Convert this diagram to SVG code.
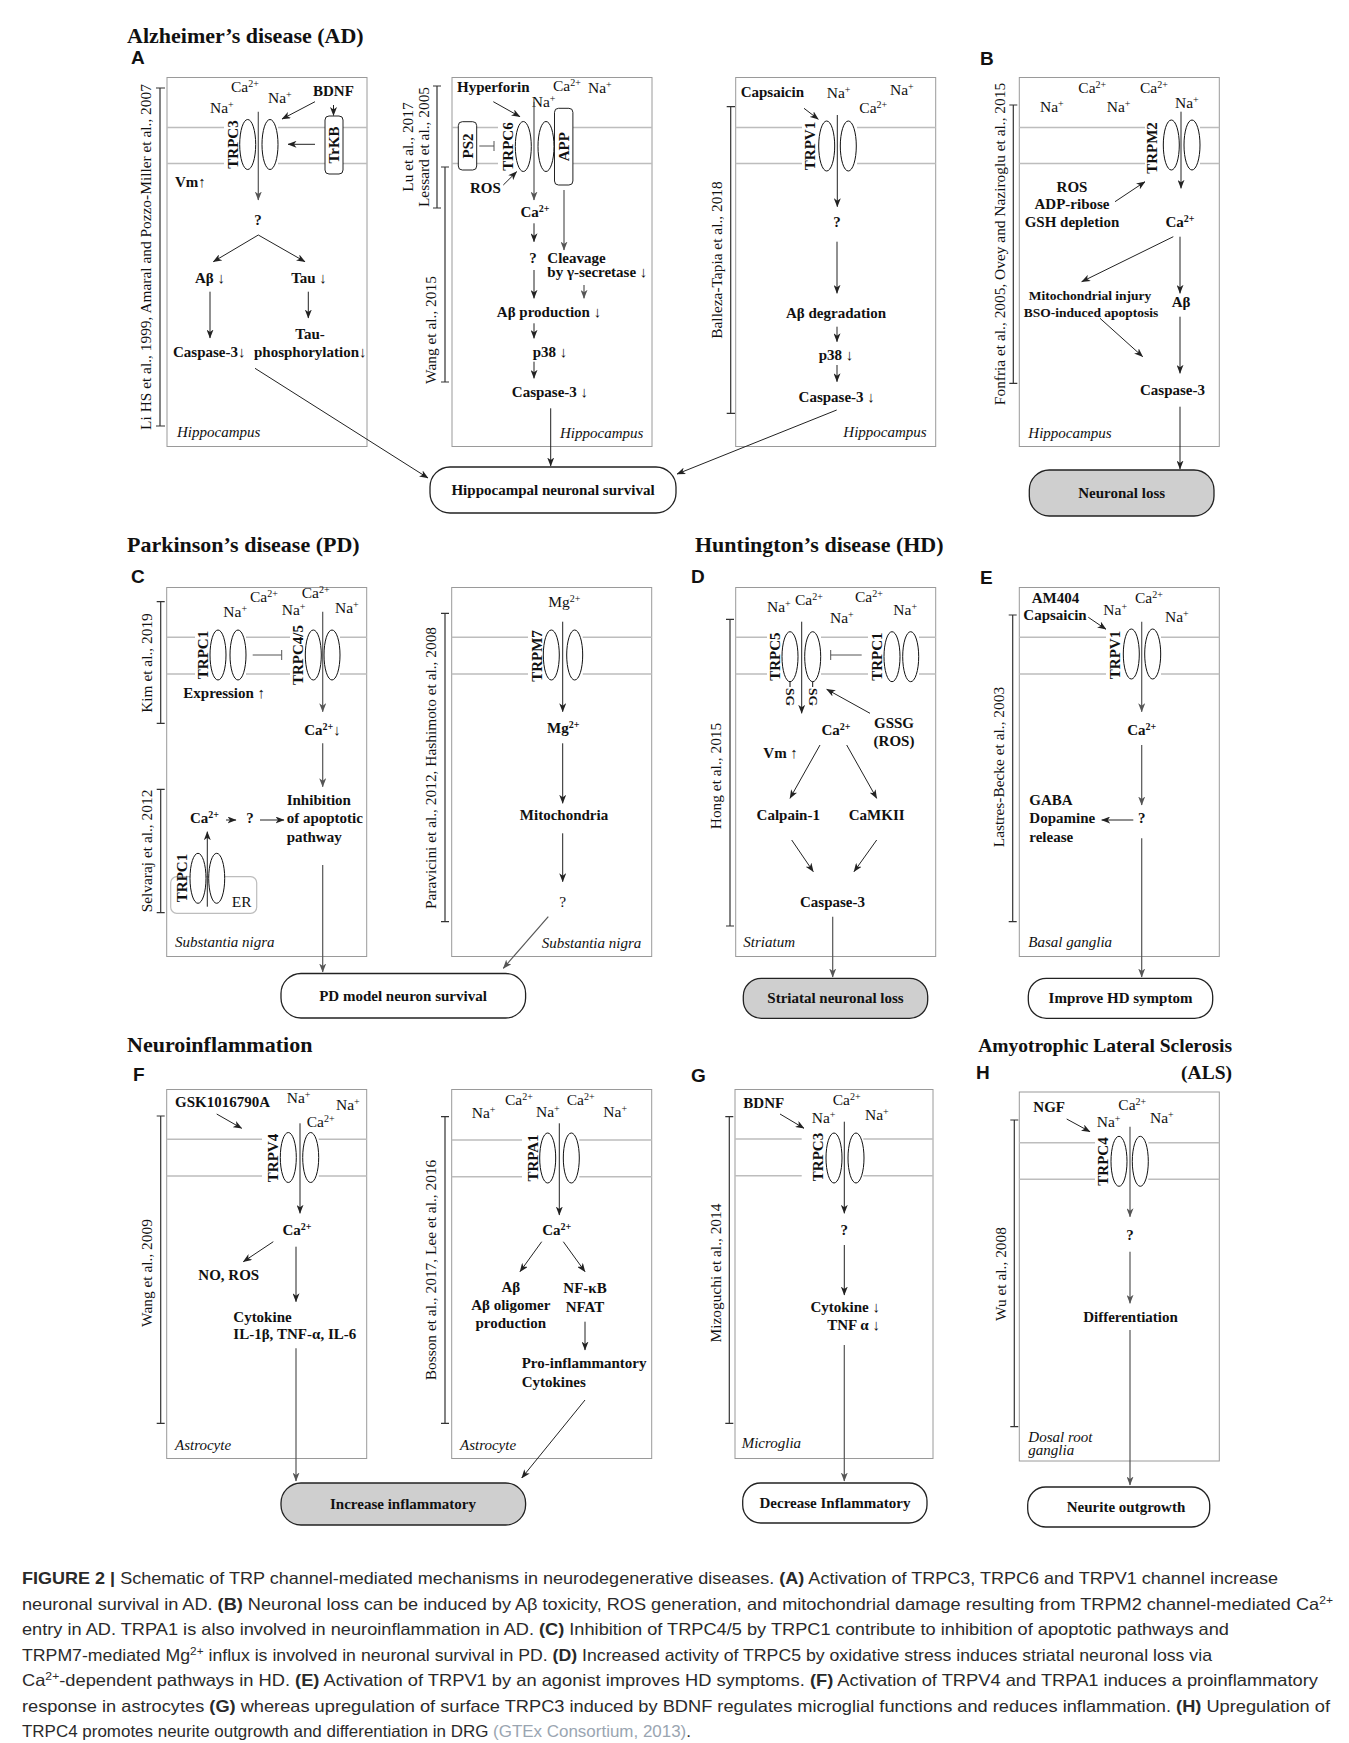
<svg xmlns="http://www.w3.org/2000/svg" width="1349" height="1743" viewBox="0 0 1349 1743">
<style>
text{font-family:"Liberation Serif","Times New Roman",serif;fill:#111}
.t{font-size:22px;font-weight:bold}
.ts{font-size:19.5px;font-weight:bold}
.pl{font-family:"Liberation Sans",Arial,sans-serif;font-size:19px;font-weight:bold}
.b{font-size:15px;font-weight:bold}
.bs{font-size:13.5px;font-weight:bold}
.r{font-size:15.5px}
.i{font-size:15px;font-style:italic}
.c{font-size:15.4px}
.m{text-anchor:middle}
.e{text-anchor:end}
.sup{font-size:10px;baseline-shift:super}
.box{fill:none;stroke:#9a9a9a;stroke-width:1}
.mem{stroke:#bdbdbd;stroke-width:1.5;fill:none}
.ov{fill:#fff;stroke:#111;stroke-width:1}
.rb{fill:#fff;stroke:#222;stroke-width:1}
.br{fill:none;stroke:#333;stroke-width:1.2}
.a{stroke:#222;stroke-width:1;fill:none;marker-end:url(#ah)}
.g{stroke:#555;stroke-width:1.2;fill:none;marker-end:url(#ahg)}
.inh{stroke:#555;stroke-width:1;fill:none}
.out{fill:#fff;stroke:#222;stroke-width:1.3}
.outg{fill:#cfcfcf;stroke:#222;stroke-width:1.3}
.cap{font-family:"Liberation Sans",Arial,sans-serif;font-size:16.5px;fill:#2a2a2a}
.capb{font-weight:bold}
</style>
<defs>
<marker id="ah" markerUnits="userSpaceOnUse" markerWidth="9" markerHeight="7" refX="8.5" refY="3.5" orient="auto"><path d="M0,0 L9,3.5 L0,7 L2.5,3.5 z" fill="#222"/></marker>
<marker id="ahg" markerUnits="userSpaceOnUse" markerWidth="9" markerHeight="7" refX="8.5" refY="3.5" orient="auto"><path d="M0,0 L9,3.5 L0,7 L2.5,3.5 z" fill="#555"/></marker>
</defs>
<rect width="1349" height="1743" fill="#fff"/>

<!-- titles -->
<g id="titles">
<text class="t" x="127" y="43">Alzheimer’s disease (AD)</text>
<text class="pl" x="131" y="64">A</text>
<text class="pl" x="980" y="65">B</text>
<text class="t" x="127" y="552">Parkinson’s disease (PD)</text>
<text class="pl" x="131" y="583">C</text>
<text class="t" x="695" y="552">Huntington’s disease (HD)</text>
<text class="pl" x="691" y="583">D</text>
<text class="pl" x="980" y="584">E</text>
<text class="t" x="127" y="1052">Neuroinflammation</text>
<text class="pl" x="133" y="1081">F</text>
<text class="pl" x="691" y="1082">G</text>
<text class="ts e" x="1232" y="1052">Amyotrophic Lateral Sclerosis</text>
<text class="ts e" x="1232" y="1079">(ALS)</text>
<text class="pl" x="976" y="1079">H</text>
</g>

<!-- Panel A1 TRPC3 -->
<g id="panelA1">
<rect class="box" x="167" y="77.5" width="200" height="369"/>
<path class="mem" d="M167,127.5H224M278,127.5H367M167,163.5H224M278,163.5H367"/>
<ellipse class="ov" cx="247.7" cy="144.5" rx="8" ry="25"/>
<ellipse class="ov" cx="270" cy="144.5" rx="8" ry="25"/>
<rect class="rb" x="325" y="116" width="18" height="58" rx="4"/>
<text class="b m" transform="translate(339,145) rotate(-90)">TrKB</text>
<text class="b m" transform="translate(238,144.5) rotate(-90)">TRPC3</text>
<text class="r" x="231" y="92">Ca<tspan class="sup">2+</tspan></text>
<text class="r" x="210" y="113">Na<tspan class="sup">+</tspan></text>
<text class="r" x="268" y="103">Na<tspan class="sup">+</tspan></text>
<text class="b" x="313" y="96">BDNF</text>
<text class="b" x="175" y="187">Vm↑</text>
<text class="b m" x="258" y="225">?</text>
<text class="b m" x="210" y="283">Aβ ↓</text>
<text class="b m" x="309" y="283">Tau ↓</text>
<text class="b m" x="310" y="338.5">Tau-</text>
<text class="b" x="173" y="357">Caspase-3↓</text>
<text class="b" x="254" y="357">phosphorylation↓</text>
<text class="i" x="177" y="437">Hippocampus</text>
<path class="br" d="M156,88H165M160,88V426M156,426H165"/>
<text class="c m" transform="translate(151,257) rotate(-90)">Li HS et al., 1999, Amaral and Pozzo-Miller et al., 2007</text>
</g>

<!-- Panel A2 TRPC6 -->
<g id="panelA2">
<rect class="box" x="452" y="77.5" width="200" height="369"/>
<path class="mem" d="M452,127.5H498M573,127.5H652M452,163.5H498M573,163.5H652"/>
<rect class="rb" x="458.3" y="121.7" width="18.4" height="48.3" rx="4"/>
<text class="b m" transform="translate(472.5,146) rotate(-90)">PS2</text>
<text class="b m" transform="translate(512.7,146.5) rotate(-90)">TRPC6</text>
<ellipse class="ov" cx="523.3" cy="146.5" rx="8" ry="25"/>
<ellipse class="ov" cx="546" cy="146.5" rx="8" ry="25"/>
<rect class="rb" x="554.5" y="108.3" width="18.4" height="76.7" rx="4"/>
<text class="b m" transform="translate(568.7,146.7) rotate(-90)">APP</text>
<text class="b" x="457" y="92">Hyperforin</text>
<text class="r" x="553" y="91">Ca<tspan class="sup">2+</tspan></text>
<text class="r" x="588" y="93">Na<tspan class="sup">+</tspan></text>
<text class="r" x="531.7" y="106.5">Na<tspan class="sup">+</tspan></text>
<text class="b" x="470" y="193.3">ROS</text>
<text class="b m" x="535" y="217">Ca<tspan class="sup">2+</tspan></text>
<text class="b m" x="533" y="263.3">?</text>
<text class="b" x="547.3" y="263.3">Cleavage</text>
<text class="b" x="547.3" y="277">by γ-secretase ↓</text>
<text class="b m" x="549" y="317">Aβ production ↓</text>
<text class="b m" x="550" y="357">p38 ↓</text>
<text class="b m" x="550" y="397">Caspase-3 ↓</text>
<text class="i" x="560" y="438">Hippocampus</text>
<path class="br" d="M433,86H441M437,86V208M433,208H441"/>
<path class="br" d="M441,167H449M445,167V382M441,382H449"/>
<text class="c m" transform="translate(413,147) rotate(-90)">Lu et al., 2017</text>
<text class="c m" transform="translate(428.5,147) rotate(-90)">Lessard et al., 2005</text>
<text class="c m" transform="translate(436,330) rotate(-90)">Wang et al., 2015</text>
</g>

<!-- Panel A3 TRPV1 -->
<g id="panelA3">
<rect class="box" x="735.7" y="77.5" width="200" height="369"/>
<path class="mem" d="M735.7,127.5H802M857,127.5H935.7M735.7,163.5H802M857,163.5H935.7"/>
<ellipse class="ov" cx="826.7" cy="146" rx="8" ry="25"/>
<ellipse class="ov" cx="848.3" cy="146" rx="8" ry="25"/>
<text class="b m" transform="translate(815,146) rotate(-90)">TRPV1</text>
<text class="b" x="740.7" y="96.7">Capsaicin</text>
<text class="r" x="826.7" y="98.3">Na<tspan class="sup">+</tspan></text>
<text class="r" x="890" y="95">Na<tspan class="sup">+</tspan></text>
<text class="r" x="859.3" y="113.3">Ca<tspan class="sup">2+</tspan></text>
<text class="b m" x="837" y="226.7">?</text>
<text class="b m" x="836" y="318.3">Aβ degradation</text>
<text class="b m" x="836" y="360">p38 ↓</text>
<text class="b m" x="836.7" y="401.7">Caspase-3 ↓</text>
<text class="i" x="843.3" y="437">Hippocampus</text>
<path class="br" d="M726.7,106.7H735M730.7,106.7V413.3M726.7,413.3H735"/>
<text class="c m" transform="translate(722,260) rotate(-90)">Balleza-Tapia et al., 2018</text>
</g>

<!-- Panel B TRPM2 -->
<g id="panelB">
<rect class="box" x="1019.3" y="77.5" width="200" height="369"/>
<path class="mem" d="M1019.3,127.5H1145M1200,127.5H1219.3M1019.3,163.5H1145M1200,163.5H1219.3"/>
<ellipse class="ov" cx="1171.3" cy="145" rx="8" ry="25"/>
<ellipse class="ov" cx="1192" cy="145" rx="8" ry="25"/>
<text class="b m" transform="translate(1156.7,148) rotate(-90)">TRPM2</text>
<text class="r" x="1078.3" y="93.3">Ca<tspan class="sup">2+</tspan></text>
<text class="r" x="1140" y="93.3">Ca<tspan class="sup">2+</tspan></text>
<text class="r" x="1040" y="111.7">Na<tspan class="sup">+</tspan></text>
<text class="r" x="1106.7" y="111.7">Na<tspan class="sup">+</tspan></text>
<text class="r" x="1175" y="108.3">Na<tspan class="sup">+</tspan></text>
<text class="b m" x="1072" y="191.7">ROS</text>
<text class="b m" x="1072" y="209">ADP-ribose</text>
<text class="b m" x="1072" y="227">GSH depletion</text>
<text class="b m" x="1180" y="227">Ca<tspan class="sup">2+</tspan></text>
<text class="bs m" x="1090" y="300">Mitochondrial injury</text>
<text class="bs m" x="1091" y="317">BSO-induced apoptosis</text>
<text class="b m" x="1181" y="307">Aβ</text>
<text class="b m" x="1172.5" y="395">Caspase-3</text>
<text class="i" x="1028.3" y="438.3">Hippocampus</text>
<path class="br" d="M1009.3,105H1017.3M1013.3,105V383.3M1009.3,383.3H1017.3"/>
<text class="c m" transform="translate(1004.5,244) rotate(-90)">Fonfria et al., 2005, Ovey and Naziroglu et al., 2015</text>
</g>

<!-- Panel C1 TRPC1 / TRPC4/5 -->
<g id="panelC1">
<rect class="box" x="166.7" y="587.5" width="200" height="369"/>
<path class="mem" d="M166.7,637.3H195M246,637.3H290M340,637.3H366.7M166.7,674H195M246,674H290M340,674H366.7"/>
<ellipse class="ov" cx="218" cy="655" rx="8" ry="25"/>
<ellipse class="ov" cx="238" cy="655" rx="8" ry="25"/>
<text class="b m" transform="translate(208,655) rotate(-90)">TRPC1</text>
<ellipse class="ov" cx="313.3" cy="655" rx="8" ry="25"/>
<ellipse class="ov" cx="332" cy="655" rx="8" ry="25"/>
<text class="b m" transform="translate(303.3,655) rotate(-90)">TRPC4/5</text>
<text class="r" x="250" y="601.7">Ca<tspan class="sup">2+</tspan></text>
<text class="r" x="223.3" y="616.7">Na<tspan class="sup">+</tspan></text>
<text class="r" x="301.7" y="598.3">Ca<tspan class="sup">2+</tspan></text>
<text class="r" x="281.7" y="615">Na<tspan class="sup">+</tspan></text>
<text class="r" x="335" y="613.3">Na<tspan class="sup">+</tspan></text>
<text class="b" x="183.3" y="698.3">Expression ↑</text>
<text class="b m" x="322.5" y="735">Ca<tspan class="sup">2+</tspan>↓</text>
<text class="b" x="286.7" y="805">Inhibition</text>
<text class="b" x="286.7" y="823.3">of apoptotic</text>
<text class="b" x="286.7" y="841.7">pathway</text>
<text class="b" x="190" y="823.3">Ca<tspan class="sup">2+</tspan></text>
<text class="b m" x="250" y="823.3">?</text>
<rect x="170.7" y="876.7" width="86" height="36.6" rx="6" fill="none" stroke="#bdbdbd" stroke-width="1.2"/>
<ellipse class="ov" cx="198" cy="878.3" rx="8" ry="25"/>
<ellipse class="ov" cx="216.7" cy="878.3" rx="8" ry="25"/>
<text class="b m" transform="translate(187,878) rotate(-90)">TRPC1</text>
<text class="r" x="231.7" y="906.7">ER</text>
<text class="i" x="175" y="946.7">Substantia nigra</text>
<path class="br" d="M156.7,601.7H164.7M160.7,601.7V723.3M156.7,723.3H164.7"/>
<path class="br" d="M156.7,789.3H164.7M160.7,789.3V912.7M156.7,912.7H164.7"/>
<text class="c m" transform="translate(152,663) rotate(-90)">Kim et al., 2019</text>
<text class="c m" transform="translate(152,851) rotate(-90)">Selvaraj et al., 2012</text>
</g>

<!-- Panel C2 TRPM7 -->
<g id="panelC2">
<rect class="box" x="451.7" y="587.5" width="200" height="369"/>
<path class="mem" d="M451.7,637.3H528M582.7,637.3H651.7M451.7,674H528M582.7,674H651.7"/>
<ellipse class="ov" cx="551.3" cy="655" rx="8" ry="25"/>
<ellipse class="ov" cx="574.7" cy="655" rx="8" ry="25"/>
<text class="b m" transform="translate(541.7,656) rotate(-90)">TRPM7</text>
<text class="r" x="548.3" y="606.7">Mg<tspan class="sup">2+</tspan></text>
<text class="b m" x="563.3" y="733.3">Mg<tspan class="sup">2+</tspan></text>
<text class="b m" x="564" y="820">Mitochondria</text>
<text class="r m" x="562.7" y="906.7">?</text>
<text class="i" x="541.7" y="948.3">Substantia nigra</text>
<path class="br" d="M441,613.3H449M445,613.3V921.7M441,921.7H449"/>
<text class="c m" transform="translate(436,768) rotate(-90)">Paravicini et al., 2012, Hashimoto et al., 2008</text>
</g>

<!-- Panel D TRPC5 -->
<g id="panelD">
<rect class="box" x="735.7" y="587.5" width="200" height="369"/>
<path class="mem" d="M735.7,637.3H767M821,637.3H868M919,637.3H935.7M735.7,674H767M821,674H868M919,674H935.7"/>
<ellipse class="ov" cx="790" cy="656.7" rx="8" ry="25"/>
<ellipse class="ov" cx="812.7" cy="656.7" rx="8" ry="25"/>
<path d="M790,681.7V687M812.7,681.7V687" stroke="#111" stroke-width="1"/>
<text class="bs" transform="translate(786,688) rotate(90)">SG</text>
<text class="bs" transform="translate(808.7,688) rotate(90)">SG</text>
<text class="b m" transform="translate(780,656.7) rotate(-90)">TRPC5</text>
<ellipse class="ov" cx="892" cy="656.7" rx="8" ry="25"/>
<ellipse class="ov" cx="910.7" cy="656.7" rx="8" ry="25"/>
<text class="b m" transform="translate(881.5,656.7) rotate(-90)">TRPC1</text>
<text class="r" x="767" y="611.7">Na<tspan class="sup">+</tspan></text>
<text class="r" x="795" y="605">Ca<tspan class="sup">2+</tspan></text>
<text class="r" x="830" y="623.3">Na<tspan class="sup">+</tspan></text>
<text class="r" x="855" y="601.7">Ca<tspan class="sup">2+</tspan></text>
<text class="r" x="893.3" y="615">Na<tspan class="sup">+</tspan></text>
<text class="b m" x="894" y="728.3">GSSG</text>
<text class="b m" x="894" y="746">(ROS)</text>
<text class="b m" x="836" y="735">Ca<tspan class="sup">2+</tspan></text>
<text class="b" x="763.3" y="758.3">Vm ↑</text>
<text class="b m" x="788.3" y="820">Calpain-1</text>
<text class="b m" x="876.7" y="820">CaMKII</text>
<text class="b m" x="832.5" y="906.7">Caspase-3</text>
<text class="i" x="743.3" y="946.7">Striatum</text>
<path class="br" d="M726,619.3H734M730,619.3V926M726,926H734"/>
<text class="c m" transform="translate(721,776) rotate(-90)">Hong et al., 2015</text>
</g>

<!-- Panel E TRPV1 -->
<g id="panelE">
<rect class="box" x="1019.3" y="587.5" width="200" height="369"/>
<path class="mem" d="M1019.3,637.3H1106M1161,637.3H1219.3M1019.3,674H1106M1161,674H1219.3"/>
<ellipse class="ov" cx="1131.3" cy="654" rx="8" ry="25"/>
<ellipse class="ov" cx="1152.7" cy="654" rx="8" ry="25"/>
<text class="b m" transform="translate(1120,655) rotate(-90)">TRPV1</text>
<text class="b" x="1031.7" y="603.3">AM404</text>
<text class="b" x="1023.3" y="620">Capsaicin</text>
<text class="r" x="1103.3" y="615">Na<tspan class="sup">+</tspan></text>
<text class="r" x="1135" y="603.3">Ca<tspan class="sup">2+</tspan></text>
<text class="r" x="1165" y="621.7">Na<tspan class="sup">+</tspan></text>
<text class="b m" x="1141.7" y="735">Ca<tspan class="sup">2+</tspan></text>
<text class="b m" x="1141.7" y="823.3">?</text>
<text class="b" x="1029.3" y="805">GABA</text>
<text class="b" x="1029.3" y="823.3">Dopamine</text>
<text class="b" x="1029.3" y="841.7">release</text>
<text class="i" x="1028.3" y="946.7">Basal ganglia</text>
<path class="br" d="M1008.7,615H1016.7M1012.7,615V921.7M1008.7,921.7H1016.7"/>
<text class="c m" transform="translate(1004,767) rotate(-90)">Lastres-Becke et al., 2003</text>
</g>

<!-- Panel F1 TRPV4 -->
<g id="panelF1">
<rect class="box" x="166.7" y="1089.5" width="200" height="369"/>
<path class="mem" d="M166.7,1139.3H262M318.7,1139.3H366.7M166.7,1176H262M318.7,1176H366.7"/>
<ellipse class="ov" cx="288.3" cy="1157.5" rx="8" ry="25"/>
<ellipse class="ov" cx="310.7" cy="1157.5" rx="8" ry="25"/>
<text class="b m" transform="translate(278.3,1158) rotate(-90)">TRPV4</text>
<text class="b" x="175" y="1106.7">GSK1016790A</text>
<text class="r" x="286.7" y="1103.3">Na<tspan class="sup">+</tspan></text>
<text class="r" x="336" y="1110">Na<tspan class="sup">+</tspan></text>
<text class="r" x="306.7" y="1126.7">Ca<tspan class="sup">2+</tspan></text>
<text class="b m" x="297" y="1235">Ca<tspan class="sup">2+</tspan></text>
<text class="b" x="198.3" y="1280">NO, ROS</text>
<text class="b" x="233.3" y="1321.7">Cytokine</text>
<text class="b" x="233.3" y="1339.3">IL-1β, TNF-α, IL-6</text>
<text class="i" x="175" y="1450">Astrocyte</text>
<path class="br" d="M156.7,1116H164.7M160.7,1116V1423.3M156.7,1423.3H164.7"/>
<text class="c m" transform="translate(152,1273) rotate(-90)">Wang et al., 2009</text>
</g>

<!-- Panel F2 TRPA1 -->
<g id="panelF2">
<rect class="box" x="451.7" y="1089.5" width="200" height="369"/>
<path class="mem" d="M451.7,1140H522M579.3,1140H651.7M451.7,1176.7H522M579.3,1176.7H651.7"/>
<ellipse class="ov" cx="547.7" cy="1158" rx="8" ry="25"/>
<ellipse class="ov" cx="571.3" cy="1158" rx="8" ry="25"/>
<text class="b m" transform="translate(538.3,1158) rotate(-90)">TRPA1</text>
<text class="r" x="471.7" y="1118.3">Na<tspan class="sup">+</tspan></text>
<text class="r" x="505" y="1105">Ca<tspan class="sup">2+</tspan></text>
<text class="r" x="536" y="1116.7">Na<tspan class="sup">+</tspan></text>
<text class="r" x="566.7" y="1105">Ca<tspan class="sup">2+</tspan></text>
<text class="r" x="603.3" y="1116.7">Na<tspan class="sup">+</tspan></text>
<text class="b m" x="556.7" y="1235">Ca<tspan class="sup">2+</tspan></text>
<text class="b m" x="510.8" y="1291.7">Aβ</text>
<text class="b m" x="510.8" y="1310">Aβ oligomer</text>
<text class="b m" x="510.8" y="1328">production</text>
<text class="b m" x="585" y="1293.3">NF-κB</text>
<text class="b m" x="585" y="1311.7">NFAT</text>
<text class="b" x="521.7" y="1368.3">Pro-inflammantory</text>
<text class="b" x="521.7" y="1386.7">Cytokines</text>
<text class="i" x="460" y="1450">Astrocyte</text>
<path class="br" d="M441,1116.7H449M445,1116.7V1423.3M441,1423.3H449"/>
<text class="c m" transform="translate(436,1270) rotate(-90)">Bosson et al., 2017, Lee et al., 2016</text>
</g>

<!-- Panel G TRPC3 -->
<g id="panelG">
<rect class="box" x="735" y="1089.5" width="198" height="369"/>
<path class="mem" d="M735,1139H801.7M863.3,1139H933M735,1175.7H801.7M863.3,1175.7H933"/>
<ellipse class="ov" cx="834" cy="1158" rx="8" ry="25"/>
<ellipse class="ov" cx="856" cy="1158" rx="8" ry="25"/>
<text class="b m" transform="translate(823.3,1157) rotate(-90)">TRPC3</text>
<text class="b" x="743.3" y="1108.3">BDNF</text>
<text class="r" x="811.7" y="1123.3">Na<tspan class="sup">+</tspan></text>
<text class="r" x="832.7" y="1105">Ca<tspan class="sup">2+</tspan></text>
<text class="r" x="865" y="1120">Na<tspan class="sup">+</tspan></text>
<text class="b m" x="844.3" y="1235">?</text>
<text class="b e" x="880" y="1311.7">Cytokine ↓</text>
<text class="b e" x="880" y="1330">TNF α ↓</text>
<text class="i" x="741.7" y="1448.3">Microglia</text>
<path class="br" d="M725.3,1116.7H733.3M729.3,1116.7V1423.3M725.3,1423.3H733.3"/>
<text class="c m" transform="translate(720.5,1273) rotate(-90)">Mizoguchi et al., 2014</text>
</g>

<!-- Panel H TRPC4 -->
<g id="panelH" transform="translate(5,0)">
<rect class="box" x="1014.3" y="1092" width="200" height="369"/>
<path class="mem" d="M1014.3,1142.7H1090M1143.3,1142.7H1214.3M1014.3,1179.3H1090M1143.3,1179.3H1214.3"/>
<ellipse class="ov" cx="1114" cy="1161.3" rx="8" ry="25"/>
<ellipse class="ov" cx="1135.3" cy="1161.3" rx="8" ry="25"/>
<text class="b m" transform="translate(1103.3,1161.5) rotate(-90)">TRPC4</text>
<text class="b" x="1028.3" y="1111.7">NGF</text>
<text class="r" x="1091.7" y="1126.7">Na<tspan class="sup">+</tspan></text>
<text class="r" x="1113.3" y="1110">Ca<tspan class="sup">2+</tspan></text>
<text class="r" x="1145" y="1123.3">Na<tspan class="sup">+</tspan></text>
<text class="b m" x="1125" y="1240">?</text>
<text class="b m" x="1125.5" y="1321.7">Differentiation</text>
<text class="i" x="1023.3" y="1441.7">Dosal root</text>
<text class="i" x="1023.3" y="1455">ganglia</text>
<path class="br" d="M1005.3,1120H1013.3M1009.3,1120V1426.7M1005.3,1426.7H1013.3"/>
<text class="c m" transform="translate(1000.5,1274) rotate(-90)">Wu et al., 2008</text>
</g>

<!-- outcome nodes -->
<g id="out-hippo"><rect class="out" x="430" y="467" width="246" height="46" rx="20"/><text class="b m" x="553" y="495">Hippocampal neuronal survival</text></g>
<g id="out-neuronloss"><rect class="outg" x="1029.3" y="470" width="184.7" height="46" rx="20"/><text class="b m" x="1121.7" y="498">Neuronal loss</text></g>
<g id="out-pd"><rect class="out" x="281" y="973.5" width="244.6" height="44.5" rx="20"/><text class="b m" x="403" y="1001">PD model neuron survival</text></g>
<g id="out-striatal"><rect class="outg" x="743.3" y="978.3" width="184.4" height="40" rx="18"/><text class="b m" x="835.5" y="1003">Striatal neuronal loss</text></g>
<g id="out-hd"><rect class="out" x="1028.3" y="978.3" width="184.4" height="40" rx="18"/><text class="b m" x="1120.5" y="1003">Improve HD symptom</text></g>
<g id="out-inc"><rect class="outg" x="281" y="1483" width="244.6" height="42" rx="20"/><text class="b m" x="403" y="1509">Increase inflammatory</text></g>
<g id="out-dec"><rect class="out" x="742.7" y="1483" width="184.3" height="40" rx="18"/><text class="b m" x="835" y="1508">Decrease Inflammatory</text></g>
<g id="out-neurite"><rect class="out" x="1027.7" y="1487" width="182" height="40" rx="18"/><text class="b m" x="1126" y="1512">Neurite outgrowth</text></g>

<!-- connectors -->
<g id="connectors">
<path class="a" d="M315,101.7L282,119"/>
<path class="a" d="M333.5,105V115.5"/>
<path class="a" d="M315,144.3H288"/>
<path class="g" d="M258.3,111.7V200"/>
<path class="a" d="M258.3,235L213.3,261.7"/>
<path class="a" d="M258.3,235L305,261.7"/>
<path class="a" d="M210,291.7V338"/>
<path class="a" d="M308.3,291.7V318"/>
<path class="a" d="M255,368.3L428,478"/>
<path class="inh" d="M479.3,146H494M494,141V151"/>
<path class="a" d="M493.3,101.7L520,116.7"/>
<path class="a" d="M503.3,185L516.7,171.7"/>
<path class="g" d="M534,101.7V200"/>
<path class="g" d="M564,190V250"/>
<path class="a" d="M534,223.3V241.7"/>
<path class="a" d="M534,270V298.3"/>
<path class="g" d="M584,285V298.3"/>
<path class="a" d="M534,323.3V338.3"/>
<path class="a" d="M534,361.7V378.3"/>
<path class="a" d="M550.7,408.3V466"/>
<path class="a" d="M804,108.3L818.3,119.3"/>
<path class="a" d="M837.3,115V206.7"/>
<path class="a" d="M837,241.7V293.3"/>
<path class="a" d="M837,326.7V341.7"/>
<path class="a" d="M837,365V381.7"/>
<path class="a" d="M836.7,410L677,474"/>
<path class="a" d="M1181,111.7V188.3"/>
<path class="a" d="M1115,201.7L1145,181.7"/>
<path class="a" d="M1180,236.7V293.3"/>
<path class="a" d="M1173.3,236.7L1081.7,281.7"/>
<path class="a" d="M1180,316.7V373.3"/>
<path class="a" d="M1100,318.3L1142.7,356.7"/>
<path class="a" d="M1180,406.7V469"/>
<path class="inh" d="M252.7,655H281.7M281.7,650V660"/>
<path class="g" d="M322.7,611.7V711.7"/>
<path class="g" d="M322.7,743.3V786.7"/>
<path class="a" d="M226,820H236"/>
<path class="a" d="M260,820H284"/>
<path class="a" d="M207.3,906.7V831.7"/>
<path class="g" d="M322.7,865V972"/>
<path class="a" d="M562.7,621.7V711.7"/>
<path class="a" d="M562.7,743.3V803.3"/>
<path class="a" d="M562.7,833.3V881.7"/>
<path class="g" d="M548.3,916.7L503.3,968.3"/>
<path class="a" d="M801.7,621.7V713.3"/>
<path class="inh" d="M861.7,655H830.7M830.7,650V660"/>
<path class="a" d="M870,713.3L826.7,689.3"/>
<path class="a" d="M820,745L790,798.3"/>
<path class="a" d="M846.7,745L876.7,798.3"/>
<path class="a" d="M791.7,840L813.3,871.7"/>
<path class="a" d="M876.7,840L854,871.7"/>
<path class="g" d="M832.7,916.7V977"/>
<path class="a" d="M1088.3,617.3L1106,629.3"/>
<path class="g" d="M1141.7,621.7V711.7"/>
<path class="g" d="M1141.7,745V805"/>
<path class="a" d="M1133.3,820H1101.7"/>
<path class="g" d="M1141.7,838.3V977"/>
<path class="a" d="M216.7,1114L241.7,1128.3"/>
<path class="a" d="M300,1123.3V1213.3"/>
<path class="a" d="M273.3,1241.7L243.3,1261.7"/>
<path class="a" d="M296,1246.7V1301.7"/>
<path class="g" d="M296,1348.3V1481"/>
<path class="a" d="M559.3,1123.3V1215"/>
<path class="a" d="M541.7,1241.7L520,1271.7"/>
<path class="a" d="M563.3,1241.7L585,1271.7"/>
<path class="a" d="M585,1321.7V1350"/>
<path class="a" d="M585,1400L521.7,1478"/>
<path class="a" d="M780,1114L804,1128.3"/>
<path class="a" d="M844.3,1121.7V1213.3"/>
<path class="a" d="M844.3,1245V1295"/>
<path class="g" d="M844.3,1345V1481"/>
<path class="a" d="M1066.7,1119L1090,1131.7"/>
<path class="g" d="M1130,1126.7V1216.7"/>
<path class="g" d="M1130,1251.7V1303.3"/>
<path class="g" d="M1130,1330V1485"/>
</g>

<!-- caption -->
<g id="caption">
<text class="cap" x="22" y="1584" textLength="1256" lengthAdjust="spacingAndGlyphs"><tspan class="capb">FIGURE 2 |</tspan> Schematic of TRP channel-mediated mechanisms in neurodegenerative diseases. <tspan class="capb">(A)</tspan> Activation of TRPC3, TRPC6 and TRPV1 channel increase</text>
<text class="cap" x="22" y="1609.5" textLength="1311" lengthAdjust="spacingAndGlyphs">neuronal survival in AD. <tspan class="capb">(B)</tspan> Neuronal loss can be induced by Aβ toxicity, ROS generation, and mitochondrial damage resulting from TRPM2 channel-mediated Ca<tspan font-size="11" baseline-shift="super">2+</tspan></text>
<text class="cap" x="22" y="1635" textLength="1207" lengthAdjust="spacingAndGlyphs">entry in AD. TRPA1 is also involved in neuroinflammation in AD. <tspan class="capb">(C)</tspan> Inhibition of TRPC4/5 by TRPC1 contribute to inhibition of apoptotic pathways and</text>
<text class="cap" x="22" y="1660.5" textLength="1190" lengthAdjust="spacingAndGlyphs">TRPM7-mediated Mg<tspan font-size="11" baseline-shift="super">2+</tspan> influx is involved in neuronal survival in PD. <tspan class="capb">(D)</tspan> Increased activity of TRPC5 by oxidative stress induces striatal neuronal loss via</text>
<text class="cap" x="22" y="1686" textLength="1296" lengthAdjust="spacingAndGlyphs">Ca<tspan font-size="11" baseline-shift="super">2+</tspan>-dependent pathways in HD. <tspan class="capb">(E)</tspan> Activation of TRPV1 by an agonist improves HD symptoms. <tspan class="capb">(F)</tspan> Activation of TRPV4 and TRPA1 induces a proinflammatory</text>
<text class="cap" x="22" y="1711.5" textLength="1308" lengthAdjust="spacingAndGlyphs">response in astrocytes <tspan class="capb">(G)</tspan> whereas upregulation of surface TRPC3 induced by BDNF regulates microglial functions and reduces inflammation. <tspan class="capb">(H)</tspan> Upregulation of</text>
<text class="cap" x="22" y="1737" textLength="669" lengthAdjust="spacingAndGlyphs">TRPC4 promotes neurite outgrowth and differentiation in DRG <tspan fill="#9aa5b1">(GTEx Consortium, 2013)</tspan>.</text>
</g>
</svg>
